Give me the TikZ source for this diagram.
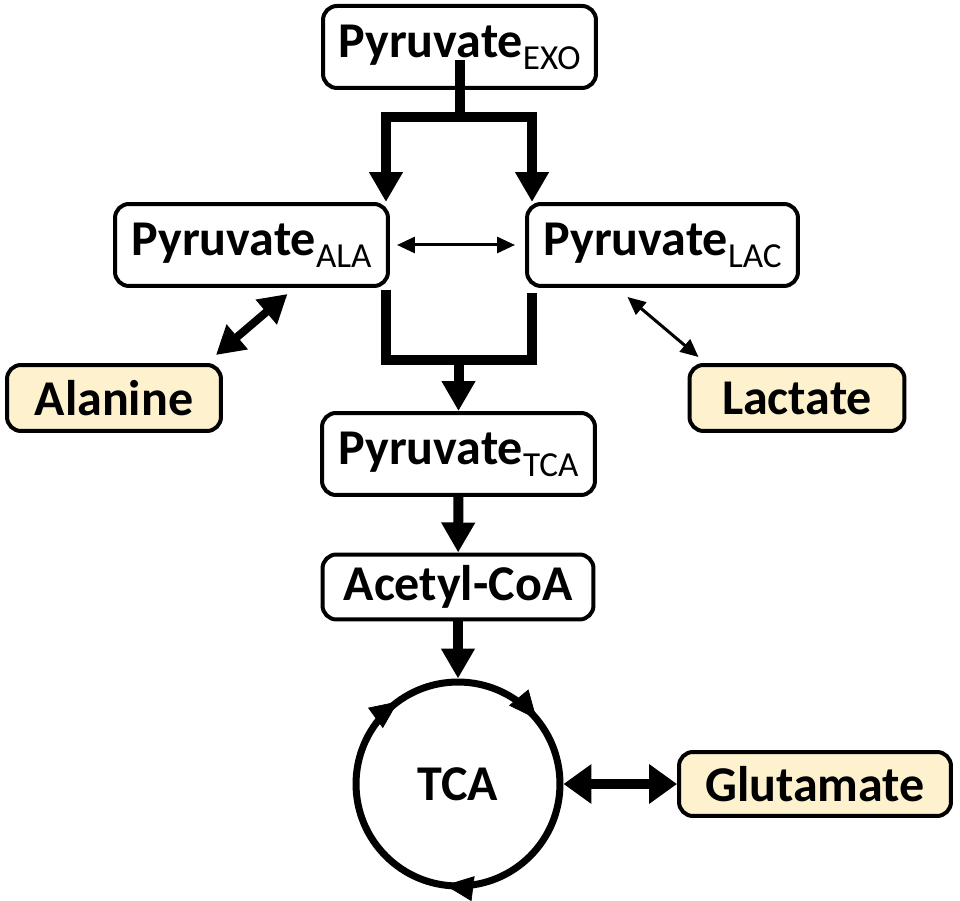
\documentclass[tikz,border=0pt]{standalone}
\usepackage{fontspec}
\setmainfont{Carlito}
\usepackage{tikz}
\usepackage{xcolor}
\usetikzlibrary{arrows.meta, decorations.markings}

\definecolor{cream}{RGB}{253,241,206}
\newcommand{\pyrsub}[1]{\raisebox{-0.24cm}{\mdseries\fontsize{20}{20}\selectfont #1}}

\begin{document}
\begin{tikzpicture}[x=0.02cm, y=-0.02cm,
    pool/.style={draw, line width=0.08cm, rounded corners=0.28cm, inner sep=0pt,
        font=\bfseries\fontsize{28.5}{30}\selectfont},
    pyrbox/.style={pool, minimum width=5.46cm, minimum height=1.64cm},
    aabox/.style={pool, fill=cream, minimum height=1.32cm},
    fat/.style={line width=0.2cm, line join=miter},
    fathead/.style={-{Triangle[width=0.64cm, length=0.6cm]}},
    midarrow/.style={line width=0.16cm, {Triangle[width=0.62cm, length=0.56cm]}-{Triangle[width=0.62cm, length=0.56cm]}},
    thinarrow/.style={line width=0.06cm, {Triangle[width=0.32cm, length=0.36cm]}-{Triangle[width=0.32cm, length=0.36cm]}},
    gluarrow/.style={line width=0.2cm, {Triangle[width=0.76cm, length=0.56cm]}-{Triangle[width=0.76cm, length=0.56cm]}},
    ringtip/.tip={Triangle[width=0.5cm, length=0.56cm]}
]

    % Define parameters for easy adjustment
    \def\ringr{2.04cm}        % Radius of the TCA ring (line centre)
    \def\ringw{0.14cm}        % Line width of the ring

    \useasboundingbox (0,0) rectangle (960,901);

    % 1. Pyruvate pools
    \node[pyrbox] (exo) at (459.5,47) {Pyruvate\pyrsub{EXO}};
    \node[pyrbox] (ala) at (251.5,245) {Pyruvate\pyrsub{ALA}};
    \node[pyrbox, minimum width=5.42cm] (lac) at (662.5,245) {Pyruvate\pyrsub{LAC}};
    \node[pyrbox] (pyrtca) at (458.5,454) {Pyruvate\pyrsub{TCA}};
    \node[pool, minimum width=5.42cm, minimum height=1.3cm] (acetyl) at (458,587) {Acetyl-CoA};

    % 2. Exchanging amino / organic acids
    \node[aabox, minimum width=4.28cm] (alanine) at (114,398) {Alanine};
    \node[aabox, minimum width=4.30cm] (lactate) at (797,398) {Lactate};
    \node[aabox, minimum width=5.44cm, minimum height=1.28cm] (glu) at (815,784) {Glutamate};

    % 3. The TCA ring
    \node[circle, draw, line width=\ringw, minimum size=2*\ringr, inner sep=0pt,
        font=\bfseries\fontsize{28.5}{30}\selectfont] (tca) at (458,784) {TCA};
    \path[decoration={markings,
            mark=at position 0.14 with {\arrow{ringtip}},
            mark=at position 0.52 with {\arrow{ringtip}},
            mark=at position 0.9 with {\arrow{ringtip}}},
        decorate] (tca.center) ++(90:\ringr) arc[start angle=90, end angle=-270, radius=\ringr];

    % 4. Split of exogenous pyruvate
    \coordinate (split) at (459.5,117);
    \coordinate (alain) at ([xshift=-0.08cm]ala.north east);
    \coordinate (lacin) at ([xshift=0.14cm]lac.north west);
    \draw[fat] ([yshift=-0.26cm]exo.center) -- (split);
    \draw[fat, fathead] (split) -| (alain);
    \draw[fat, fathead] (split) -| (lacin);

    % 5. Merge into the TCA pool
    \coordinate (merge) at (458.5,360);
    \coordinate (alaout) at ([xshift=-0.08cm, yshift=-0.04cm]ala.south east);
    \coordinate (lacout) at ([xshift=0.14cm, yshift=-0.1cm]lac.south west);
    \draw[fat] (alaout) |- (merge) -| (lacout);
    \draw[fat, fathead] (merge) -- (pyrtca);
    \draw[fat, fathead] (pyrtca) -- (acetyl);
    \draw[fat, fathead] (acetyl) -- (tca);

    % 6. Exchange arrows
    \draw[thinarrow] ([xshift=0.14cm]ala.east) -- ([xshift=-0.2cm]lac.west);
    \draw[midarrow] ([xshift=-0.14cm, yshift=0.16cm]alanine.north east) -- ([xshift=0.72cm, yshift=-0.12cm]ala.south);
    \draw[thinarrow] ([xshift=-0.7cm, yshift=-0.18cm]lac.south) -- ([xshift=0.22cm, yshift=0.12cm]lactate.north west);
    \draw[gluarrow] (tca) -- (glu);
\end{tikzpicture}
\end{document}
